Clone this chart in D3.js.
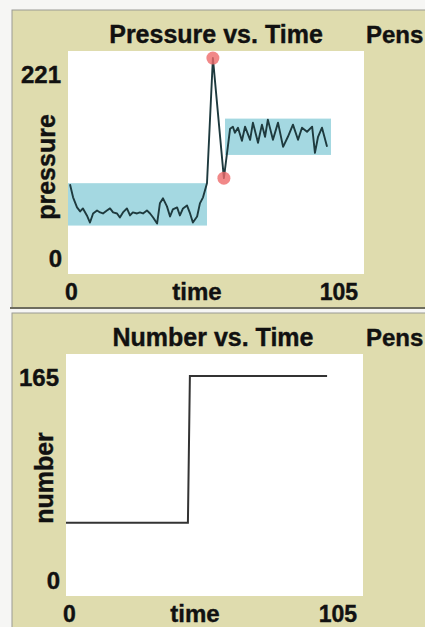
<!DOCTYPE html>
<html>
<head>
  <script src="https://d3js.org/d3.v7.min.js"></script>
  <style>
    body { margin: 0; background: #f6f6f4; }
    svg { display: block; }
    .lbl { font-family: "Liberation Sans", Arial, sans-serif; font-weight: bold; fill: #111;
      stroke: #111; stroke-width: 0.4px; }
  </style>
</head>
<body>
  <script>
    // Pressure vs. Time: time and pressure
    var pressureTime = [0.7, 1.8, 3.2, 4.3, 5.3, 6.7, 7.8, 8.9, 10.3, 11.4, 12.4, 13.8, 14.9, 16, 17.4, 18.4,
      19.5, 20.9, 22, 23, 24.5, 25.5, 26.6, 28, 29.1, 30.2, 31.6, 32.6, 33.7, 35.1, 36.2, 37.2, 38.7,
      39.7, 40.8, 42.2, 43.3, 44.3, 45.8, 46.8, 47.9, 49.3, 51.4, 55.3, 57.5, 58.5, 59.2, 60.3, 61.7,
      62.8, 64.6, 65.6, 67.4, 68.8, 69.9, 70.9, 72.7, 74.5, 76.3, 78, 79.8, 81.6, 83, 84.8, 86.6, 87.6,
      88.7, 90.1, 91.9];
    var pressureValue = [89, 76, 66, 62, 65, 58, 51, 60, 63, 61, 60, 63, 65, 61, 60, 56,
      61, 65, 58, 61, 60, 61, 60, 63, 60, 56, 50, 70, 75, 67, 57, 64, 66,
      58, 65, 68, 60, 51, 57, 70, 76, 90, 214, 95, 144, 146, 140, 145, 132,
      146, 133, 150, 130, 148, 136, 153, 133, 150, 126, 136, 148, 133, 145, 141, 146, 120,
      136, 145, 126];
    // highlighted points (peak and dip)
    var markTime = [51.4, 55.3];
    var markValue = [214, 95];
    // shaded bands: [t0, t1] and [pLow, pHigh]
    var bandTime = [[0, 49.3], [55.7, 93.3]];
    var bandValue = [[48, 90], [118, 154]];

    // Number vs. Time
    var numberTime = [0, 43.1, 43.8, 92.3];
    var numberValue = [50, 50, 150, 150];

    var pressureMax = 221, numberMax = 165, timeMax = 105;

    var W = 425, H = 627;
    var svg = d3.select("body").append("svg").attr("width", W).attr("height", H);

    var beige = "#dfdcae";

    // panel frames
    svg.append("rect").attr("x", 12).attr("y", 10).attr("width", W).attr("height", 298)
      .attr("fill", beige).attr("stroke", "#9a9a94").attr("stroke-width", 1);
    svg.append("line").attr("x1", 10).attr("x2", W).attr("y1", 308).attr("y2", 308)
      .attr("stroke", "#6e6d5e").attr("stroke-width", 2);
    svg.append("rect").attr("x", 12).attr("y", 313).attr("width", W).attr("height", H)
      .attr("fill", beige).attr("stroke", "#9a9a94").attr("stroke-width", 1);

    function panel(opt) {
      var x = d3.scaleLinear().domain([0, timeMax]).range([opt.left, opt.right]);
      var y = d3.scaleLinear().domain([0, opt.ymax]).range([opt.bottom, opt.top]);
      var g = svg.append("g");

      g.append("rect").attr("x", opt.left).attr("y", opt.top)
        .attr("width", opt.right - opt.left).attr("height", opt.bottom - opt.top)
        .attr("fill", "#fff");

      g.append("text").attr("class", "lbl").attr("x", opt.titleX).attr("y", opt.titleY)
        .attr("text-anchor", "middle").style("font-size", "25px").text(opt.title);
      g.append("text").attr("class", "lbl").attr("x", 366).attr("y", opt.titleY)
        .style("font-size", "24px").text("Pens");

      // y labels
      g.append("text").attr("class", "lbl").attr("x", opt.left - 7).attr("y", y(opt.ymax) + 32)
        .attr("text-anchor", "end").style("font-size", "24px").text(opt.ymax);
      g.append("text").attr("class", "lbl").attr("x", opt.left - 6).attr("y", y(0) - 7)
        .attr("text-anchor", "end").style("font-size", "24px").text("0");
      g.append("text").attr("class", "lbl")
        .attr("transform", "translate(" + (opt.left - 13) + "," + opt.ylabY + ") rotate(-90)")
        .attr("text-anchor", "middle").style("font-size", "25px").text(opt.ylab);

      // x labels
      g.append("text").attr("class", "lbl").attr("x", x(0) - 3).attr("y", opt.bottom + 26)
        .style("font-size", "23px").text("0");
      g.append("text").attr("class", "lbl").attr("x", x(timeMax) - 6).attr("y", opt.bottom + 26)
        .attr("text-anchor", "end").style("font-size", "23px").text(timeMax);
      g.append("text").attr("class", "lbl").attr("x", opt.timeX).attr("y", opt.bottom + 26)
        .attr("text-anchor", "middle").style("font-size", "24px").text("time");

      return { g: g, x: x, y: y };
    }

    // top panel
    var p1 = panel({ left: 68, right: 364, top: 51, bottom: 274, ymax: pressureMax,
      title: "Pressure vs. Time", titleX: 216, titleY: 43, ylab: "pressure", ylabY: 167, timeX: 197 });

    p1.g.selectAll(".band").data(bandTime).enter().append("rect")
      .attr("x", function (d) { return p1.x(d[0]); })
      .attr("width", function (d) { return p1.x(d[1]) - p1.x(d[0]); })
      .attr("y", function (d, i) { return p1.y(bandValue[i][1]); })
      .attr("height", function (d, i) { return p1.y(bandValue[i][0]) - p1.y(bandValue[i][1]); })
      .attr("fill", "#a4d8e1");

    var line1 = d3.line()
      .x(function (d, i) { return p1.x(pressureTime[i]); })
      .y(function (d) { return p1.y(d); });
    p1.g.append("path").attr("d", line1(pressureValue))
      .attr("fill", "none").attr("stroke", "#1e3a3e").attr("stroke-width", 1.9)
      .attr("stroke-linejoin", "round");

    p1.g.selectAll(".mark").data(markValue).enter().append("circle")
      .attr("cx", function (d, i) { return p1.x(markTime[i]); })
      .attr("cy", function (d) { return p1.y(d); })
      .attr("r", 6.5).attr("fill", "#ee6a6a").attr("fill-opacity", 0.8);

    // bottom panel
    var p2 = panel({ left: 66, right: 363, top: 354, bottom: 596, ymax: numberMax,
      title: "Number vs. Time", titleX: 213, titleY: 346, ylab: "number", ylabY: 478, timeX: 195 });

    var line2 = d3.line()
      .x(function (d, i) { return p2.x(numberTime[i]); })
      .y(function (d) { return p2.y(d); });
    p2.g.append("path").attr("d", line2(numberValue))
      .attr("fill", "none").attr("stroke", "#333").attr("stroke-width", 2);
  </script>
</body>
</html>
